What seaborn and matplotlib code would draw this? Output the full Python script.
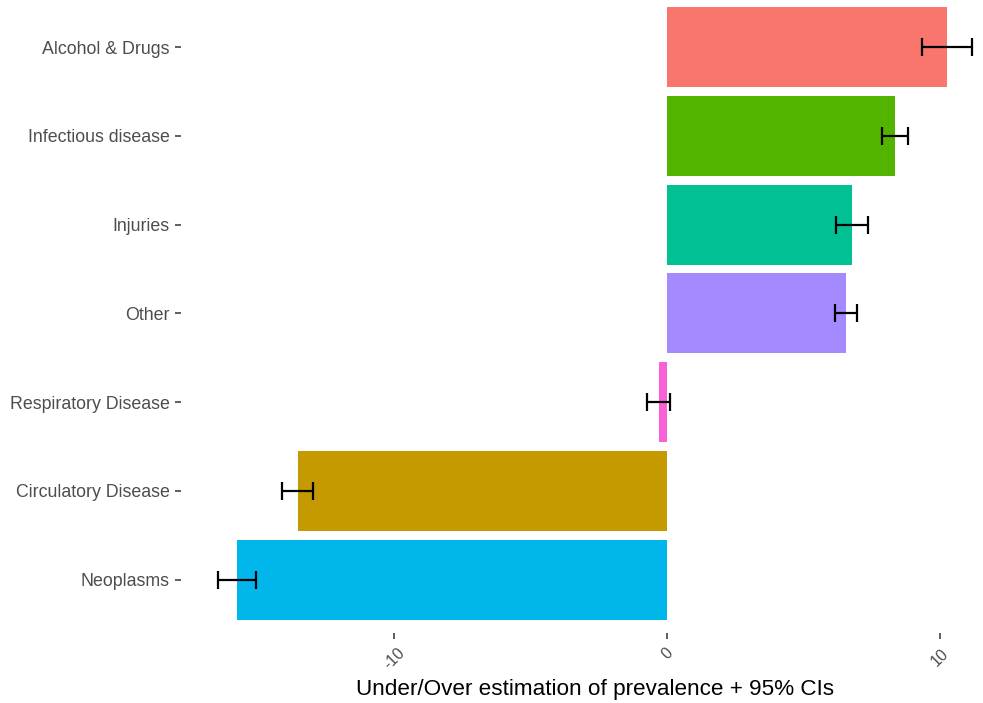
import matplotlib
matplotlib.use("Agg")
import matplotlib.pyplot as plt
import seaborn as sns
import pandas as pd

categories = ["Alcohol & Drugs", "Infectious disease", "Injuries", "Other",
              "Respiratory Disease", "Circulatory Disease", "Neoplasms"]
estimate = [10.25, 8.36, 6.77, 6.57, -0.30, -13.53, -15.75]
ci_low = [9.35, 7.89, 6.19, 6.15, -0.74, -14.10, -16.45]
ci_high = [11.16, 8.84, 7.37, 6.97, 0.13, -12.95, -15.05]

colours = {
    "Alcohol & Drugs": "#F8766D",
    "Circulatory Disease": "#C49A00",
    "Infectious disease": "#53B400",
    "Injuries": "#00C094",
    "Neoplasms": "#00B6EB",
    "Other": "#A58AFF",
    "Respiratory Disease": "#FB61D7",
}

df = pd.DataFrame({"cause": categories, "est": estimate,
                   "lo": ci_low, "hi": ci_high})

sns.set_theme(style="white")
plt.rcParams["font.family"] = ["Liberation Sans", "DejaVu Sans"]

W, H = 983, 703
fig = plt.figure(figsize=(W / 100, H / 100), dpi=100)
left_px, right_px, top_px, bottom_px = 181, 1009, 0, 633
ax = fig.add_axes([left_px / W, 1 - bottom_px / H,
                   (right_px - left_px) / W, (bottom_px - top_px) / H])

sns.barplot(data=df, x="est", y="cause", hue="cause", palette=colours,
            order=categories, hue_order=categories, orient="h",
            width=0.9, dodge=False, legend=False, errorbar=None,
            saturation=1, linewidth=0, ax=ax)

ypos = list(range(len(categories)))
xerr = [[e - l for e, l in zip(estimate, ci_low)],
        [h - e for e, h in zip(estimate, ci_high)]]
ax.errorbar(estimate, ypos, xerr=xerr, fmt="none", ecolor="black",
            elinewidth=1.6, capsize=6.2, capthick=1.6, zorder=5)

ax.set_xlim(-17.8, 12.53)
ax.set_ylim(6.6, -0.53)
ax.set_xticks([-10, 0, 10])
ax.set_xticklabels(["-10", "0", "10"], rotation=45, ha="center", va="top")
ax.set_ylabel("")
ax.set_xlabel("Under/Over estimation of prevalence + 95% CIs",
              fontsize=16.2, color="black")
# place the axis title just under the rotated tick labels
ax.xaxis.set_label_coords(0.5, (bottom_px - 679) / (bottom_px - top_px))

for s in ax.spines.values():
    s.set_visible(False)
ax.tick_params(axis="both", which="both", length=4, width=1.1,
               color="#333333", labelcolor="#4D4D4D", labelsize=12.8,
               bottom=True, left=True)
ax.tick_params(axis="x", pad=5, labelsize=11.5)
ax.tick_params(axis="y", pad=4)
ax.grid(False)

fig.savefig("out.png", dpi=100)
